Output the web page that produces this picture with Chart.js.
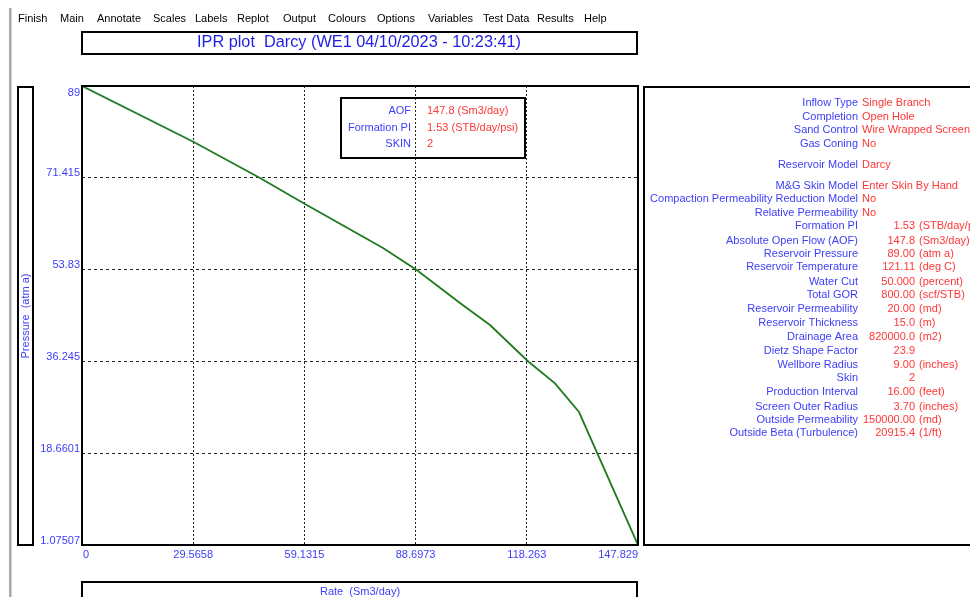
<!DOCTYPE html>
<html>
<head>
<meta charset="utf-8">
<script src="https://cdn.jsdelivr.net/npm/chart.js@4.4.1/dist/chart.umd.min.js"></script>
<style>
  html, body { margin: 0; padding: 0; background: #ffffff; }
  #wrap { width: 970px; height: 597px; position: relative; }
</style>
</head>
<body>
<div id="wrap"><canvas id="ipr" width="970" height="597"></canvas></div>
<script>
// IPR curve: liquid rate vs flowing bottom-hole pressure
const rateSm3 = [0, 29.59, 47.33, 59.29, 80.03, 88.99, 100.50, 108.48, 118.50, 125.76, 132.14, 147.829];
const pressureAtm = [89, 78.33, 71.38, 66.40, 57.97, 53.75, 47.43, 43.22, 36.32, 32.05, 26.55, 1.07507];

// Axis tick values as printed by the plotting package
const rateTicks = [0, 29.5658, 59.1315, 88.6973, 118.263, 147.829];
const rateTickLabels = ['0', '29.5658', '59.1315', '88.6973', '118.263', '147.829'];
const pressureTicks = [1.07507, 18.6601, 36.245, 53.83, 71.415, 89];
const pressureTickLabels = ['1.07507', '18.6601', '36.245', '53.83', '71.415', '89'];

const menuItems = ['Finish', 'Main', 'Annotate', 'Scales', 'Labels', 'Replot', 'Output', 'Colours', 'Options', 'Variables', 'Test Data', 'Results', 'Help'];
const menuX = [18, 60, 97, 153, 195, 237, 283, 328, 377, 428, 483, 537, 584];

const titleText = 'IPR plot  Darcy (WE1 04/10/2023 - 10:23:41)';
const xTitle = 'Rate  (Sm3/day)';
const yTitle = 'Pressure  (atm a)';

const summaryLabels = ['AOF', 'Formation PI', 'SKIN'];
const summaryValues = ['147.8 (Sm3/day)', '1.53 (STB/day/psi)', '2'];

// Right-hand input summary: [label, value, unit]
const panelRows = [
  ['Inflow Type', 'Single Branch', ''],
  ['Completion', 'Open Hole', ''],
  ['Sand Control', 'Wire Wrapped Screen', ''],
  ['Gas Coning', 'No', ''],
  ['Reservoir Model', 'Darcy', ''],
  ['M&G Skin Model', 'Enter Skin By Hand', ''],
  ['Compaction Permeability Reduction Model', 'No', ''],
  ['Relative Permeability', 'No', ''],
  ['Formation PI', '1.53', '(STB/day/psi)'],
  ['Absolute Open Flow (AOF)', '147.8', '(Sm3/day)'],
  ['Reservoir Pressure', '89.00', '(atm a)'],
  ['Reservoir Temperature', '121.11', '(deg C)'],
  ['Water Cut', '50.000', '(percent)'],
  ['Total GOR', '800.00', '(scf/STB)'],
  ['Reservoir Permeability', '20.00', '(md)'],
  ['Reservoir Thickness', '15.0', '(m)'],
  ['Drainage Area', '820000.0', '(m2)'],
  ['Dietz Shape Factor', '23.9', ''],
  ['Wellbore Radius', '9.00', '(inches)'],
  ['Skin', '2', ''],
  ['Production Interval', '16.00', '(feet)'],
  ['Screen Outer Radius', '3.70', '(inches)'],
  ['Outside Permeability', '150000.00', '(md)'],
  ['Outside Beta (Turbulence)', '20915.4', '(1/ft)']
];
const panelRowY = [103, 117, 130, 144, 165, 186, 199, 213, 226, 241, 254, 267, 282, 295, 309, 323, 337, 351, 365, 378, 392, 407, 420, 433];

const BLUE = '#3d3dfa';
const RED = '#ff3636';
const FONT = '"Liberation Sans", Arial, sans-serif';

const frame = {
  id: 'frame',
  beforeDraw(chart) {
    const ctx = chart.ctx;
    ctx.save();
    ctx.fillStyle = '#ffffff';
    ctx.fillRect(0, 0, chart.width, chart.height);
    ctx.restore();
  },
  afterDraw(chart) {
    const ctx = chart.ctx;
    const a = chart.chartArea;
    const xs = chart.scales.x, ys = chart.scales.y;
    ctx.save();

    // window edge
    ctx.fillStyle = '#a8a8a8';
    ctx.fillRect(9, 8, 2, 589);
    ctx.fillStyle = '#d4d4d4';
    ctx.fillRect(11, 8, 1, 589);

    // menu bar
    ctx.fillStyle = '#000000';
    ctx.font = '11px ' + FONT;
    ctx.textBaseline = 'middle';
    ctx.textAlign = 'left';
    menuItems.forEach((m, i) => ctx.fillText(m, menuX[i], 19));

    ctx.strokeStyle = '#000000';
    ctx.lineWidth = 2;

    // title box
    ctx.strokeRect(82, 32, 555, 22);
    ctx.fillStyle = '#1e1ee8';
    ctx.font = '16.3px ' + FONT;
    ctx.textAlign = 'center';
    ctx.fillText(titleText, 359, 43);

    // y title box
    ctx.strokeRect(18, 87, 15, 458);
    ctx.save();
    ctx.translate(26, 316);
    ctx.rotate(-Math.PI / 2);
    ctx.fillStyle = BLUE;
    ctx.font = '11px ' + FONT;
    ctx.textAlign = 'center';
    ctx.fillText(yTitle, 0, 0);
    ctx.restore();

    // x title box
    ctx.strokeRect(82, 582, 555, 30);
    ctx.fillStyle = BLUE;
    ctx.font = '11px ' + FONT;
    ctx.textAlign = 'center';
    ctx.fillText(xTitle, 360, 592);

    // plot frame
    ctx.strokeRect(a.left, a.top, a.right - a.left, a.bottom - a.top);

    // summary box inside plot
    ctx.strokeRect(341, 98, 184, 60);
    ctx.font = '11px ' + FONT;
    summaryLabels.forEach((t, i) => {
      const y = 111 + i * 16.5;
      ctx.fillStyle = BLUE; ctx.textAlign = 'right'; ctx.fillText(t, 411, y);
      ctx.fillStyle = RED; ctx.textAlign = 'left'; ctx.fillText(summaryValues[i], 427, y);
    });

    // right info panel
    ctx.strokeRect(644, 87, 340, 458);
    panelRows.forEach((r, i) => {
      const y = panelRowY[i];
      ctx.fillStyle = BLUE; ctx.textAlign = 'right'; ctx.fillText(r[0], 858, y);
      ctx.fillStyle = RED;
      if (r[2] === '' && isNaN(parseFloat(r[1]))) {
        ctx.textAlign = 'left'; ctx.fillText(r[1], 862, y);
      } else {
        ctx.textAlign = 'right'; ctx.fillText(r[1], 915, y);
        ctx.textAlign = 'left'; ctx.fillText(r[2], 919, y);
      }
    });

    // tick labels from the scales
    ctx.fillStyle = BLUE;
    ctx.font = '11px ' + FONT;
    pressureTicks.forEach((v, i) => {
      const py = ys.getPixelForValue(v);
      ctx.textAlign = 'right';
      if (i === pressureTicks.length - 1) {
        ctx.textBaseline = 'top'; ctx.fillText(pressureTickLabels[i], a.left - 2, py + 1);
      } else {
        ctx.textBaseline = 'bottom'; ctx.fillText(pressureTickLabels[i], a.left - 2, py + 1);
      }
    });
    ctx.textBaseline = 'middle';
    rateTicks.forEach((v, i) => {
      const px = xs.getPixelForValue(v);
      if (i === 0) { ctx.textAlign = 'left'; ctx.fillText(rateTickLabels[i], px + 1, 555); }
      else if (i === rateTicks.length - 1) { ctx.textAlign = 'right'; ctx.fillText(rateTickLabels[i], px, 555); }
      else { ctx.textAlign = 'center'; ctx.fillText(rateTickLabels[i], px, 555); }
    });
    ctx.restore();
  }
};

const points = rateSm3.map((r, i) => ({ x: r, y: pressureAtm[i] }));

new Chart(document.getElementById('ipr'), {
  type: 'line',
  data: {
    datasets: [{
      data: points,
      borderColor: '#1f7a1f',
      borderWidth: 1.8,
      pointRadius: 0,
      tension: 0,
      fill: false
    }]
  },
  options: {
    responsive: false,
    animation: false,
    events: [],
    layout: { padding: { left: 82, top: 86, right: 332, bottom: 52 } },
    plugins: { legend: { display: false }, tooltip: { enabled: false } },
    scales: {
      x: {
        type: 'linear',
        min: 0, max: 147.829,
        afterBuildTicks: s => { s.ticks = rateTicks.map(v => ({ value: v })); },
        ticks: { display: false },
        grid: { color: '#222222', lineWidth: 1, drawTicks: false },
        border: { display: false, dash: [2, 2] }
      },
      y: {
        type: 'linear',
        min: 1.07507, max: 89,
        afterBuildTicks: s => { s.ticks = pressureTicks.map(v => ({ value: v })); },
        ticks: { display: false },
        grid: { color: '#222222', lineWidth: 1, drawTicks: false },
        border: { display: false, dash: [3, 3] }
      }
    }
  },
  plugins: [frame]
});
</script>
</body>
</html>
